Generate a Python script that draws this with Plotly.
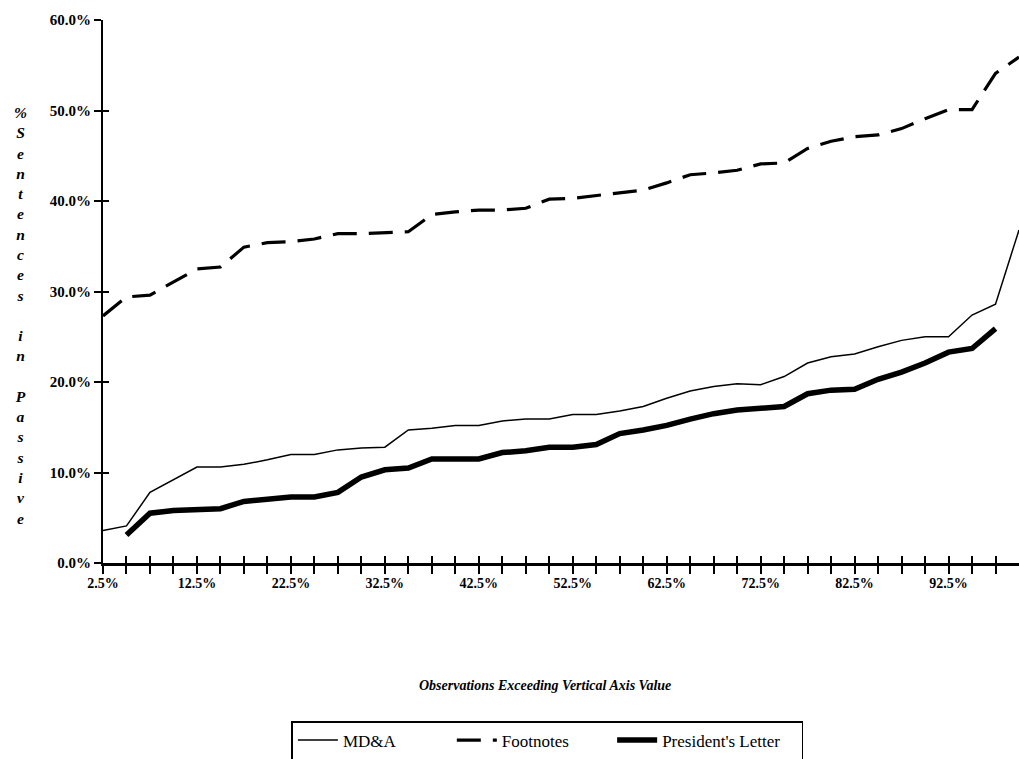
import plotly.graph_objects as go

# x: observations exceeding vertical axis value (%)
x_vals = [2.5 * (k + 1) for k in range(40)]

md_a = [3.6, 4.1, 7.8, 9.2, 10.6, 10.6, 10.9, 11.4, 12.0, 12.0,
        12.5, 12.7, 12.8, 14.7, 14.9, 15.2, 15.2, 15.7, 15.9, 15.9,
        16.4, 16.4, 16.8, 17.3, 18.2, 19.0, 19.5, 19.8, 19.7, 20.6,
        22.1, 22.8, 23.1, 23.9, 24.6, 25.0, 25.0, 27.4, 28.6, 36.8]

footnotes = [27.3, 29.4, 29.6, 31.1, 32.5, 32.7, 34.9, 35.4, 35.5, 35.8,
             36.4, 36.4, 36.5, 36.6, 38.5, 38.8, 39.0, 39.0, 39.2, 40.2,
             40.3, 40.6, 40.9, 41.2, 42.0, 42.9, 43.1, 43.4, 44.1, 44.2,
             45.8, 46.6, 47.1, 47.3, 48.0, 49.1, 50.1, 50.1, 54.1, 55.9]

presidents = [None, 3.1, 5.5, 5.8, 5.9, 6.0, 6.8, 7.1, 7.3, 7.3,
              7.8, 9.5, 10.3, 10.5, 11.5, 11.5, 11.5, 12.2, 12.4, 12.8,
              12.8, 13.1, 14.3, 14.7, 15.2, 15.9, 16.5, 16.9, 17.1, 17.3,
              18.7, 19.1, 19.2, 20.3, 21.1, 22.1, 23.3, 23.7, 25.9, None]

series_names = ["MD&A", "Footnotes", "President's Letter"]

x_label_vals = [2.5, 12.5, 22.5, 32.5, 42.5, 52.5, 62.5, 72.5, 82.5, 92.5]
x_label_text = ["2.5%", "12.5%", "22.5%", "32.5%", "42.5%", "52.5%",
                "62.5%", "72.5%", "82.5%", "92.5%"]
x_minor_vals = [2.5 * (k + 1) for k in range(39)]
y_tick_vals = [0, 10, 20, 30, 40, 50, 60]
y_tick_text = ["0.0%", "10.0%", "20.0%", "30.0%", "40.0%", "50.0%", "60.0%"]

y_title_letters = ["%", "S", "e", "n", "t", "e", "n", "c", "e", "s", "",
                   "i", "n", "", "P", "a", "s", "s", "i", "v", "e"]

serif = "Liberation Serif, Times New Roman, serif"
nb = "&nbsp;"

fig = go.Figure()
fig.add_trace(go.Scatter(x=x_vals, y=md_a, mode="lines",
                         name=series_names[0] + nb * 12,
                         line=dict(color="black", width=1.5)))
fig.add_trace(go.Scatter(x=x_vals, y=footnotes, mode="lines",
                         name=series_names[1] + nb * 9,
                         line=dict(color="black", width=3.2, dash="24px,12px")))
fig.add_trace(go.Scatter(x=x_vals, y=presidents, mode="lines",
                         name=series_names[2] + nb * 4,
                         line=dict(color="black", width=5.5)))
# helper trace for overlay axes (inside tick marks)
fig.add_trace(go.Scatter(x=[2.5], y=[0], mode="markers", xaxis="x2", yaxis="y2",
                         marker=dict(opacity=0), showlegend=False, hoverinfo="skip"))

W, H = 1019, 759
fig.update_layout(
    width=W, height=H,
    margin=dict(l=103, r=0, t=20, b=196),
    paper_bgcolor="white", plot_bgcolor="white",
    font=dict(family=serif, color="black"),
    showlegend=True,
    xaxis=dict(range=[2.5, 100], showgrid=False, zeroline=False,
               showline=True, linecolor="black", linewidth=2.5,
               tickmode="array", tickvals=x_label_vals, ticktext=x_label_text,
               ticks="outside", ticklen=8, tickwidth=2, tickcolor="black",
               tickfont=dict(family=serif, size=14, weight="bold"),
               ticklabelstandoff=-3,
               minor=dict(tickmode="array", tickvals=x_minor_vals, ticks="outside",
                          ticklen=8, tickwidth=2, tickcolor="black", showgrid=False)),
    yaxis=dict(range=[0, 60], showgrid=False, zeroline=False,
               showline=True, linecolor="black", linewidth=2,
               tickmode="array", tickvals=y_tick_vals, ticktext=y_tick_text,
               ticks="outside", ticklen=7, tickwidth=2, tickcolor="black",
               tickfont=dict(family=serif, size=15, weight="bold")),
    xaxis2=dict(range=[2.5, 100], overlaying="x", anchor="y", side="bottom",
                showgrid=False, zeroline=False, showline=False,
                tickmode="array", tickvals=x_minor_vals, ticks="inside",
                ticklen=7, tickwidth=2, tickcolor="black", showticklabels=False),
    yaxis2=dict(range=[0, 60], overlaying="y", anchor="x", side="left",
                showgrid=False, zeroline=False, showline=False,
                tickmode="array", tickvals=y_tick_vals, ticks="inside",
                ticklen=6, tickwidth=2, tickcolor="black", showticklabels=False),
    legend=dict(orientation="h", xref="paper", x=0.2057,
                yref="container", y=1 - 721 / H, xanchor="left", yanchor="top",
                bordercolor="black", borderwidth=1.5, bgcolor="white",
                font=dict(family=serif, size=17, color="black"),
                itemwidth=40),
)

fig.add_annotation(
    text="<br>".join(y_title_letters),
    xref="paper", yref="paper", x=-0.0906, y=0.455,
    xanchor="center", yanchor="middle", showarrow=False, align="center",
    font=dict(family=serif, size=15.6, weight="bold", style="italic", color="black"),
)
fig.add_annotation(
    text="Observations Exceeding Vertical Axis Value",
    xref="paper", yref="paper", x=0.4825, y=-0.225,
    xanchor="center", yanchor="middle", showarrow=False,
    font=dict(family=serif, size=14, weight="bold", style="italic", color="black"),
)

fig.write_html(
    "out.html",
    config={"displayModeBar": False},
    post_script="document.body.style.margin='0';document.body.style.overflow='hidden';",
)
